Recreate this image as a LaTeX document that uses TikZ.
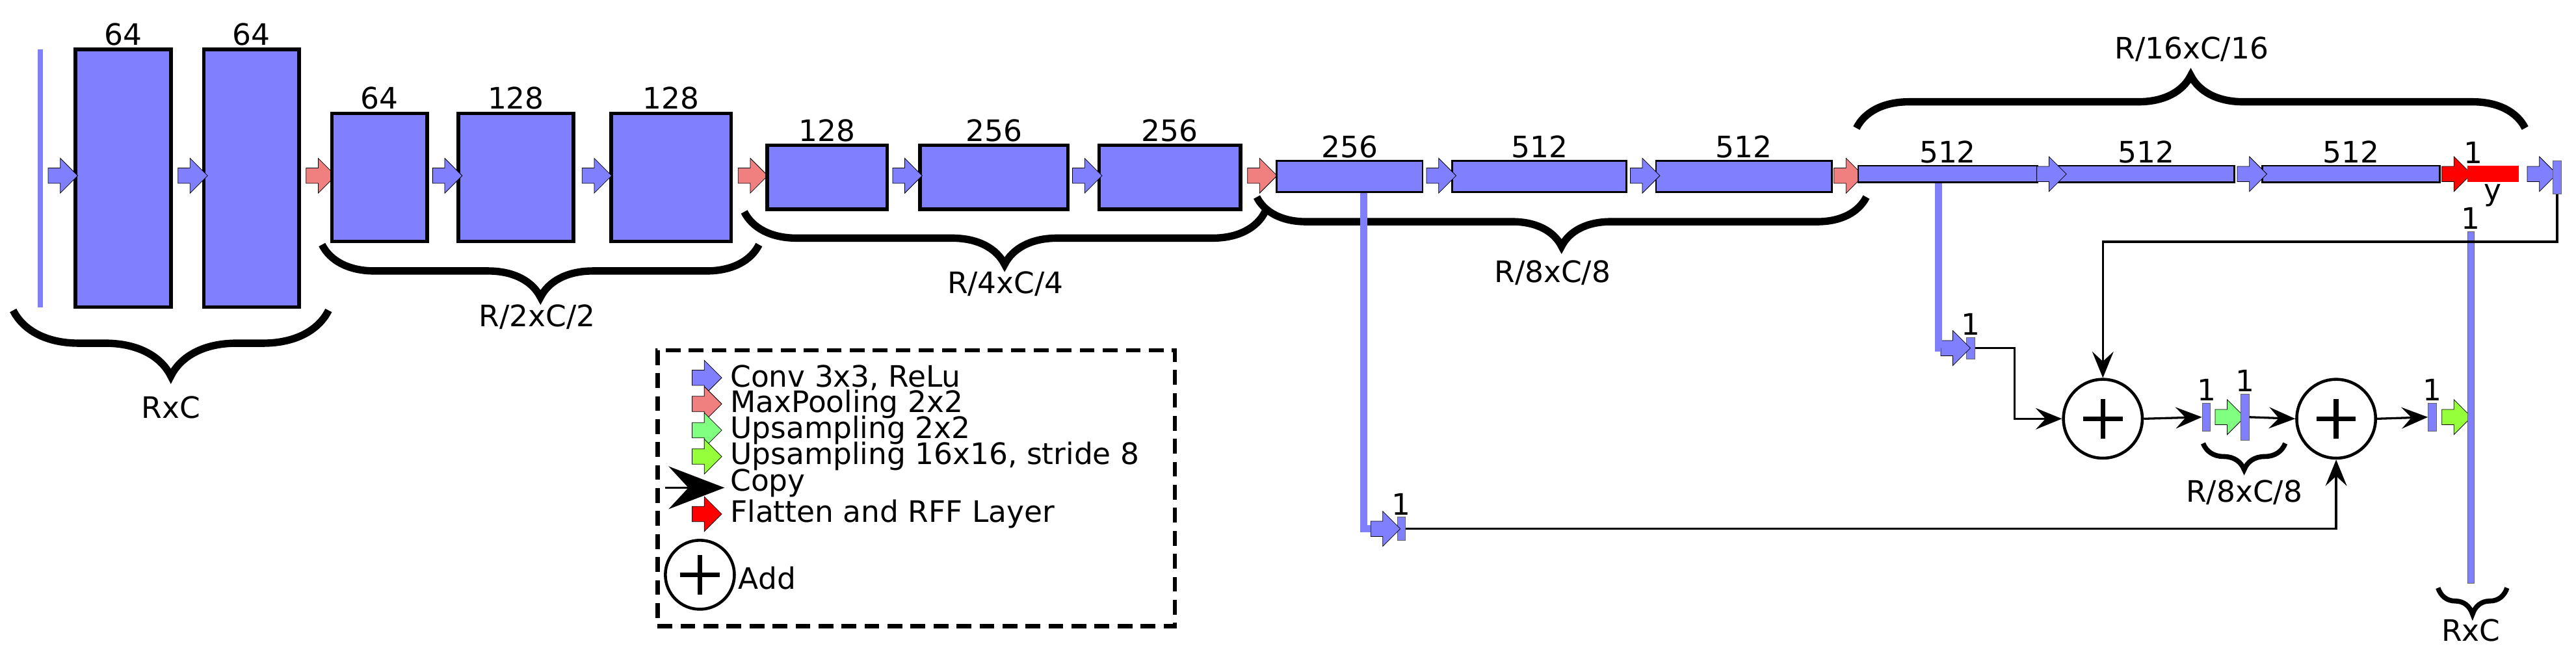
\documentclass[tikz,border=0pt]{standalone}
\usepackage{fontspec}
\setmainfont{DejaVu Sans}
\usepackage{tikz}
\usetikzlibrary{shapes, shapes.arrows, arrows.meta, calc, decorations.pathreplacing}
\definecolor{featblue}{RGB}{128,128,255}
\definecolor{poolred}{RGB}{240,128,128}
\definecolor{upgreen}{RGB}{128,255,128}
\definecolor{upyellow}{RGB}{150,255,60}
\tikzset{
    fmap/.style = {rectangle, draw, line width=2.2pt, fill=featblue, inner sep=0pt},
    fmapthin/.style = {fmap, line width=1pt},
    bar/.style = {rectangle, fill=featblue, draw=black!60, line width=0.4pt, inner sep=0pt, minimum width=5pt},
    lbl/.style = {inner sep=1pt, label distance=0pt},
    op/.style = {single arrow, draw, line width=0.3pt, inner xsep=0pt, inner ysep=4.5pt, minimum height=18pt,
        single arrow head extend=6pt},
    conv/.style = {op, fill=featblue},
    pool/.style = {op, fill=poolred},
    rff/.style = {op, fill=red},
    upa/.style = {op, fill=upgreen},
    upb/.style = {op, fill=upyellow},
    copy/.style = {draw, line width=1.3pt, -{Stealth[length=16pt, width=13pt, inset=6pt]}},
    skipline/.style = {draw=featblue, line width=4.5pt},
    plus/.style = {circle, draw, line width=1.8pt, minimum size=48pt, inner sep=0pt,
        path picture={\draw[line width=3pt] (path picture bounding box.center) +(-12pt,0) -- +(12pt,0)
            (path picture bounding box.center) +(0,-12pt) -- +(0,12pt);}},
    brc/.style = {draw, line width=4.5pt, decorate, decoration={brace, amplitude=#1}}
}
\begin{document}
\begin{tikzpicture}[x=1pt, y=-1pt, font=\fontsize{18}{20}\selectfont]
    \useasboundingbox (0,0) rectangle (1568,393);
    % Encoder, full resolution
    \node [bar, minimum width=3pt, minimum height=157pt, draw=none] (inbar) at (24.5,108.5) {};
    \node [fmap, minimum width=58pt, minimum height=157pt, label={[lbl]above:64}] (b1) at (75,108.5) {};
    \node [fmap, minimum width=58pt, minimum height=157pt, label={[lbl]above:64}] (b2) at (153,108.5) {};
    \node [conv] (c1) at (36,107) {};
    \node [conv] (c2) at (115,107) {};
    \node [pool] (p1) at (193,107) {};
    % R/2
    \node [fmap, minimum width=58pt, minimum height=78pt, label={[lbl]above:64}] (b3) at (231,108) {};
    \node [fmap, minimum width=70pt, minimum height=78pt, label={[lbl]above:128}] (b4) at (314,108) {};
    \node [fmap, minimum width=73pt, minimum height=78pt, label={[lbl]above:128}] (b5) at (408.5,108) {};
    \node [conv] (c3) at (270,107) {};
    \node [conv] (c4) at (361,107) {};
    \node [pool] (p2) at (456,107) {};
    % R/4
    \node [fmap, minimum width=73pt, minimum height=39pt, label={[lbl]above:128}] (b6) at (503.5,108) {};
    \node [fmap, minimum width=90pt, minimum height=39pt, label={[lbl]above:256}] (b7) at (605,108) {};
    \node [fmap, minimum width=86pt, minimum height=39pt, label={[lbl]above:256}] (b8) at (712,108) {};
    \node [conv] (c5) at (550,107) {};
    \node [conv] (c6) at (659.5,107) {};
    \node [pool] (p3) at (766,107) {};
    % R/8
    \node [fmapthin, minimum width=89pt, minimum height=19pt, label={[lbl]above:256}] (b9) at (821.5,107.5) {};
    \node [fmapthin, minimum width=106pt, minimum height=19pt, label={[lbl]above:512}] (b10) at (937,107.5) {};
    \node [fmapthin, minimum width=107pt, minimum height=19pt, label={[lbl]above:512}] (b11) at (1061.5,107.5) {};
    \node [conv] (c7) at (875,107) {};
    \node [conv] (c8) at (999,107) {};
    \node [pool] (p4) at (1123,107) {};
    % R/16
    \node [fmapthin, minimum width=109pt, minimum height=10pt, label={[lbl]above:512}] (b12) at (1185.5,106) {};
    \node [fmapthin, minimum width=107pt, minimum height=10pt, label={[lbl]above:512}] (b13) at (1306.5,106) {};
    \node [fmapthin, minimum width=108pt, minimum height=10pt, label={[lbl]above:512}] (b14) at (1431,106) {};
    \node [conv] (c9) at (1246.5,106) {};
    \node [conv] (c10) at (1368.5,106) {};
    \node [rff] (r1) at (1493,106) {};
    \node [rectangle, fill=red, inner sep=0pt, minimum width=31pt, minimum height=10pt,
        label={[lbl]above left=0pt and -12pt:1}, label={[lbl]below:y}] (ybar) at (1517.5,106) {};
    \node [conv] (c11) at (1545,106) {};
    \node [bar, minimum height=20pt] (outbar) at (1556.5,108) {};
    % Braces
    \draw [brc=40pt] (200,189) -- (8,189);
    \node (t1) at (104,248) {RxC};
    \draw [brc=32pt] (462,149) -- (196,149);
    \node (t2) at (327,193) {R/2xC/2};
    \draw [brc=32pt] (770,129) -- (453,129);
    \node (t3) at (612,173) {R/4xC/4};
    \draw [brc=30pt] (1136,120) -- (765,120);
    \node (t4) at (945,166) {R/8xC/8};
    \draw [brc=32pt] (1130,78) -- (1537,78);
    \node (t5) at (1334,30) {R/16xC/16};
    % Decoder
    \node [bar, minimum height=13pt, label={[lbl]above:1}] (s1) at (1199.5,212) {};
    \node [conv] (sa1) at (1188,212) {};
    \path [skipline] ($(b12.south)+(-5.5,0)$) |- (sa1.west);
    \node [bar, minimum height=14pt, label={[lbl]above:1}] (s2) at (853,322) {};
    \node [conv] (sa2) at (841,322) {};
    \path [skipline] ($(b9.south)+(8.5,0)$) |- (sa2.west);
    \node [plus] (add1) at (1280,255) {};
    \node [plus] (add2) at (1422,255) {};
    \node [bar, minimum height=17pt, label={[lbl]above:1}] (u1) at (1343,254) {};
    \node [upa] (g1) at (1355,254) {};
    \node [bar, minimum height=28pt, label={[lbl]above:1}] (u2) at (1366.5,254) {};
    \node [bar, minimum height=17pt, label={[lbl]above:1}] (u3) at (1480.5,254) {};
    \node [upb] (g2) at (1493,254) {};
    \node [bar, minimum width=4pt, minimum height=214pt, label={[lbl]above:1}] (out) at (1504,248) {};
    \path [copy] (s1.east) -- ++(24,0) |- (add1.west);
    \path [copy] (outbar.south) -- ++(0,29) -| (add1.north);
    \path [copy] (add1.east) -- (u1.west);
    \path [copy] (u2.east) -- (add2.west);
    \path [copy] (s2.east) -| (add2.south);
    \path [copy] (add2.east) -- (u3.west);
    \draw [brc=16pt, line width=3pt] (1391,270) -- (1341,270);
    \node (t6) at (1366,300) {R/8xC/8};
    \draw [brc=16pt, line width=3pt] (1526,358) -- (1484,358);
    \node (t7) at (1504,384) {RxC};
    % Legend
    \node [draw, dashed, dash pattern=on 9pt off 5pt, line width=2.5pt, minimum width=315pt,
        minimum height=168pt, anchor=north west] (legend) at (399,212) {};
    \node [conv] (l1) at (428,230) {};
    \node [anchor=west] at (441,230) {Conv 3x3, ReLu};
    \node [pool] (l2) at (428,246) {};
    \node [anchor=west] at (441,246) {MaxPooling 2x2};
    \node [upa] (l3) at (428,262) {};
    \node [anchor=west] at (441,262) {Upsampling 2x2};
    \node [upb] (l4) at (428,278) {};
    \node [anchor=west] at (441,278) {Upsampling 16x16, stride 8};
    \coordinate (l5a) at (405,297);
    \coordinate (l5b) at (441,297);
    \draw [line width=1.5pt, -{Stealth[length=34pt, width=26pt, inset=12pt]}] (l5a) -- (l5b);
    \node [anchor=west] at (441,294) {Copy};
    \node [rff] (l6) at (428,313) {};
    \node [anchor=west] at (441,313) {Flatten and RFF Layer};
    \node [plus, minimum size=42pt] (l7) at (426,350) {};
    \node [anchor=west] at (446,352) {Add};
\end{tikzpicture}
\end{document}
